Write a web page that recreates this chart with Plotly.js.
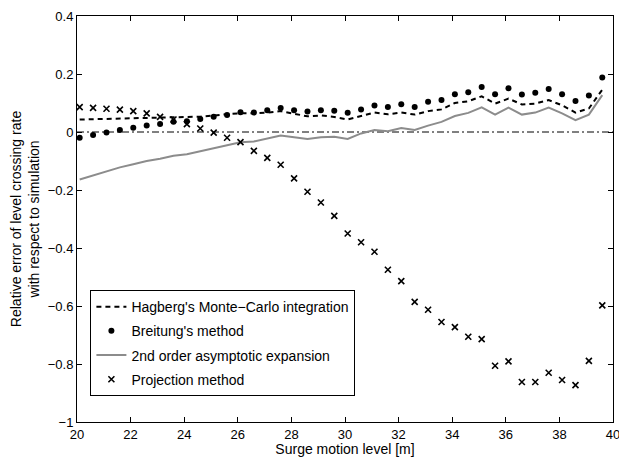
<!DOCTYPE html>
<html>
<head>
<meta charset="utf-8">
<script src="https://cdn.plot.ly/plotly-3.0.1.min.js"></script>
<style>html,body{margin:0;padding:0;background:#fff;}#chart{width:619px;height:457px;}</style>
</head>
<body>
<div id="chart"></div>
<script>
const surgeLevel = [20.1,20.6,21.1,21.6,22.1,22.6,23.1,23.6,24.1,24.6,25.1,25.6,26.1,26.6,27.1,27.6,28.1,28.6,29.1,29.6,30.1,30.6,31.1,31.6,32.1,32.6,33.1,33.6,34.1,34.6,35.1,35.6,36.1,36.6,37.1,37.6,38.1,38.6,39.1,39.6];
const hagberg = [0.043,0.044,0.045,0.046,0.046,0.048,0.050,0.051,0.052,0.053,0.057,0.060,0.065,0.065,0.067,0.072,0.064,0.054,0.057,0.052,0.043,0.054,0.067,0.061,0.067,0.060,0.072,0.078,0.100,0.106,0.123,0.098,0.115,0.095,0.098,0.110,0.092,0.067,0.081,0.146];
const breitung = [-0.020,-0.010,-0.002,0.007,0.015,0.022,0.028,0.035,0.037,0.045,0.053,0.059,0.068,0.067,0.075,0.083,0.075,0.071,0.075,0.073,0.066,0.078,0.091,0.086,0.096,0.086,0.104,0.110,0.130,0.137,0.155,0.130,0.151,0.129,0.135,0.148,0.130,0.107,0.126,0.188];
const asymptotic = [-0.164,-0.150,-0.136,-0.122,-0.111,-0.100,-0.092,-0.082,-0.077,-0.066,-0.055,-0.046,-0.035,-0.033,-0.022,-0.012,-0.018,-0.024,-0.018,-0.016,-0.024,-0.005,0.007,0.003,0.014,0.007,0.022,0.035,0.055,0.066,0.085,0.060,0.084,0.060,0.067,0.084,0.064,0.041,0.060,0.127];
const projection = [0.086,0.083,0.080,0.077,0.072,0.064,0.052,0.043,0.027,0.012,-0.002,-0.020,-0.035,-0.065,-0.089,-0.113,-0.160,-0.206,-0.243,-0.289,-0.350,-0.380,-0.413,-0.475,-0.514,-0.586,-0.613,-0.655,-0.673,-0.706,-0.714,-0.806,-0.791,-0.862,-0.862,-0.830,-0.855,-0.873,-0.789,-0.598];
const zeroX = [20, 40];
const zeroY = [0, 0];
const xTicks = [20,22,24,26,28,30,32,34,36,38,40];
const yTicks = [-1,-0.8,-0.6,-0.4,-0.2,0,0.2,0.4];
const yTickText = ['\u22121','\u22120.8','\u22120.6','\u22120.4','\u22120.2','0','0.2','0.4'];

const fam = 'Liberation Sans, Arial, sans-serif';
const tickFont = {family: fam, size: 13, color: '#000'};
const titleFont = {family: fam, size: 14, color: '#000'};

const traces = [
  {x: zeroX, y: zeroY, mode: 'lines', showlegend: false, hoverinfo: 'skip',
   line: {color: '#000', width: 1, dash: '7px,3px,2px,3px'}},
  {x: surgeLevel, y: hagberg, mode: 'lines', name: "Hagberg's Monte\u2212Carlo integration",
   legendgroup: 'a', line: {color: '#000', width: 2, dash: '5px,4px'}},
  {x: surgeLevel, y: breitung, mode: 'markers', name: "Breitung's method",
   legendgroup: 'b', marker: {symbol: 'circle', size: 6, color: '#000'}},
  {x: surgeLevel, y: asymptotic, mode: 'lines', name: '2nd order asymptotic expansion',
   legendgroup: 'c', line: {color: '#8c8c8c', width: 2}},
  {x: surgeLevel, y: projection, mode: 'markers', name: 'Projection method',
   legendgroup: 'd', marker: {symbol: 'x-thin', size: 6, color: '#000', line: {color: '#000', width: 1.6}}}
];

const layout = {
  width: 619, height: 457,
  margin: {l: 77, r: 6, t: 16, b: 35, pad: 0},
  paper_bgcolor: '#fff', plot_bgcolor: '#fff',
  font: tickFont,
  showlegend: true,
  legend: {x: 0.025, y: 0.325, xanchor: 'left', yanchor: 'top',
    bgcolor: '#fff', bordercolor: '#000', borderwidth: 1,
    font: {family: fam, size: 14, color: '#000'},
    traceorder: 'grouped', tracegroupgap: 3, itemwidth: 30},
  xaxis: {range: [20, 40], tickvals: xTicks, ticks: 'inside', ticklen: 5, tickcolor: '#000',
    showline: true, linecolor: '#000', linewidth: 1, mirror: 'ticks', showgrid: false, zeroline: false,
    tickfont: tickFont, ticklabeloverflow: 'allow',
    title: {text: 'Surge motion level [m]', font: titleFont, standoff: 1}},
  yaxis: {range: [-1, 0.4], tickvals: yTicks, ticktext: yTickText, ticks: 'inside', ticklen: 5, tickcolor: '#000',
    showline: true, linecolor: '#000', linewidth: 1, mirror: 'ticks', showgrid: false, zeroline: false,
    tickfont: tickFont, ticklabeloverflow: 'allow',
    title: {text: 'Relative error of level crossing rate<br>with respect to simulation', font: titleFont, standoff: 4}}
};

Plotly.newPlot('chart', traces, layout, {displayModeBar: false, staticPlot: true});
</script>
</body>
</html>
